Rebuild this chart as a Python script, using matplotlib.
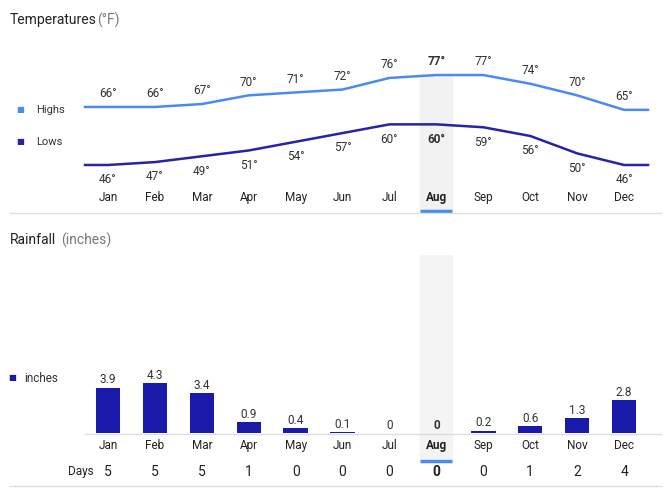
import matplotlib.pyplot as plt
import matplotlib.transforms as mtrans
from matplotlib.lines import Line2D

months = ['Jan', 'Feb', 'Mar', 'Apr', 'May', 'Jun', 'Jul', 'Aug', 'Sep', 'Oct', 'Nov', 'Dec']
highs = [66, 66, 67, 70, 71, 72, 76, 77, 77, 74, 70, 65]
lows = [46, 47, 49, 51, 54, 57, 60, 60, 59, 56, 50, 46]
rain = [3.9, 4.3, 3.4, 0.9, 0.4, 0.1, 0, 0, 0.2, 0.6, 1.3, 2.8]
days = [5, 5, 5, 1, 0, 0, 0, 0, 0, 1, 2, 4]
sel = 7

W, H = 671, 493
HI = '#4a8af4'
LO = '#2424a8'
BAR = '#1a1aaa'
TXT = '#333333'

fig = plt.figure(figsize=(W / 100, H / 100), dpi=100)
plt.rcParams['font.family'] = ['Roboto', 'DejaVu Sans']

def axes_px(x0, y0, x1, y1):
    return fig.add_axes([x0 / W, 1 - y1 / H, (x1 - x0) / W, (y1 - y0) / H])

x = list(range(12))
xl = (-0.49, 11.51)

# temperatures
ax = axes_px(85, 55, 648, 212)
ax.set_xlim(*xl)
ax.set_ylim(29.8, 83.9)
ax.axis('off')
ax.axvspan(sel - 0.34, sel + 0.34, ymin=0, ymax=(77 - 29.8) / (83.9 - 29.8), color='#f2f2f2', zorder=0)
ax.plot([xl[0]] + x + [xl[1]], [highs[0]] + highs + [highs[-1]], color=HI, lw=1.8, clip_on=False)
ax.plot([xl[0]] + x + [xl[1]], [lows[0]] + lows + [lows[-1]], color=LO, lw=1.8, clip_on=False)
for i in x:
    fw = 'bold' if i == sel else 'normal'
    ax.annotate(f'{highs[i]}°', (i, highs[i]), xytext=(0, 7), textcoords='offset points',
                ha='center', fontsize=8.5, color=TXT, fontweight=fw)
    ax.annotate(f'{lows[i]}°', (i, lows[i]), xytext=(0, -6), textcoords='offset points',
                ha='center', va='top', fontsize=8.5, color=TXT, fontweight=fw)
    ax.text(i, 0.095, months[i], transform=ax.get_xaxis_transform(), ha='center', va='center',
            fontsize=8.5, color='#222222', fontweight=fw)
ax.plot([sel - 0.34, sel + 0.34], [0.005, 0.005], transform=ax.get_xaxis_transform(),
        color=HI, lw=2.5, clip_on=False, solid_capstyle='butt')

# rainfall
bx = axes_px(85, 255, 648, 462)
bx.set_xlim(*xl)
bx.set_ylim(-2.5, 15.3)
bx.axis('off')
bx.axvspan(sel - 0.34, sel + 0.34, ymin=0.02, ymax=1, color='#f4f4f4', zorder=0)
bx.bar(x, rain, width=0.52, color=BAR, zorder=2)
for i in x:
    fw = 'bold' if i == sel else 'normal'
    bx.annotate(f'{rain[i]:g}', (i, rain[i]), xytext=(0, 3), textcoords='offset points',
                ha='center', fontsize=8.5, color=TXT, fontweight=fw)
    bx.text(i, -1.1, months[i], ha='center', va='center', fontsize=8.5, color='#222222', fontweight=fw)
bx.plot([sel - 0.34, sel + 0.34], [-2.4, -2.4], color=HI, lw=2.5, clip_on=False, solid_capstyle='butt')
tr = mtrans.blended_transform_factory(bx.transData, fig.transFigure)
for i in x:
    fig.text(i, 1 - 472 / H, str(days[i]), transform=tr, ha='center', va='center', fontsize=10,
             color='#222222', fontweight='bold' if i == sel else 'normal')

# titles, legend, separators
fig.text(10 / W, 1 - 20 / H, 'Temperatures', fontsize=10, color='#222222', va='center')
fig.text(97 / W, 1 - 20 / H, '(°F)', fontsize=10, color='#777777', va='center')
fig.text(10 / W, 1 - 240 / H, 'Rainfall', fontsize=10, color='#222222', va='center')
fig.text(61 / W, 1 - 240 / H, '(inches)', fontsize=10, color='#777777', va='center')
fig.text(20 / W, 1 - 110 / H, '■', color=HI, fontsize=6, va='center', ha='center')
fig.text(36 / W, 1 - 110 / H, 'Highs', color=TXT, fontsize=8, va='center')
fig.text(20 / W, 1 - 142 / H, '■', color=LO, fontsize=6, va='center', ha='center')
fig.text(36 / W, 1 - 142 / H, 'Lows', color=TXT, fontsize=8, va='center')
fig.text(12 / W, 1 - 378 / H, '■', color=BAR, fontsize=6, va='center', ha='center')
fig.text(24 / W, 1 - 378 / H, 'inches', color=TXT, fontsize=8.5, va='center')
fig.text(68 / W, 1 - 471 / H, 'Days', color='#222222', fontsize=8.5, va='center')
for y, x0 in [(213, 10), (434, 85), (486, 10)]:
    fig.add_artist(Line2D([x0 / W, 661 / W], [1 - y / H, 1 - y / H], color='#dddddd', lw=1))

fig.savefig('out.png', dpi=100)
